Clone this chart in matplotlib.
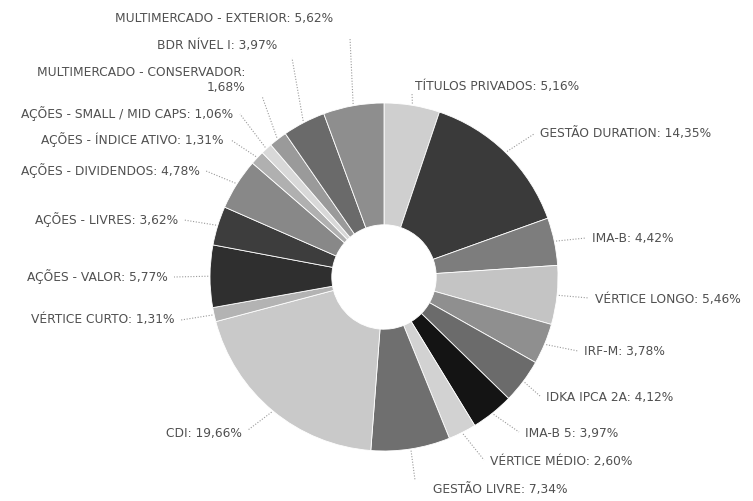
import numpy as np
import matplotlib
matplotlib.use("Agg")
import matplotlib.pyplot as plt

plt.rcParams['font.family'] = ['DejaVu Sans']

# dados (sentido horário a partir do topo)
categorias = [
    'TÍTULOS PRIVADOS', 'GESTÃO DURATION', 'IMA-B', 'VÉRTICE LONGO', 'IRF-M',
    'IDKA IPCA 2A', 'IMA-B 5', 'VÉRTICE MÉDIO', 'GESTÃO LIVRE', 'CDI',
    'VÉRTICE CURTO', 'AÇÕES - VALOR', 'AÇÕES - LIVRES', 'AÇÕES - DIVIDENDOS',
    'AÇÕES - ÍNDICE ATIVO', 'AÇÕES - SMALL / MID CAPS',
    'MULTIMERCADO - CONSERVADOR', 'BDR NÍVEL I', 'MULTIMERCADO - EXTERIOR',
]
percentuais = [5.16, 14.35, 4.42, 5.46, 3.78, 4.12, 3.97, 2.60, 7.34, 19.66,
               1.31, 5.77, 3.62, 4.78, 1.31, 1.06, 1.68, 3.97, 5.62]

cores = ['#cfcfcf', '#3a3a3a', '#7d7d7d', '#c4c4c4', '#8f8f8f', '#6b6b6b',
         '#141414', '#d2d2d2', '#6f6f6f', '#c9c9c9', '#b3b3b3', '#2f2f2f',
         '#3d3d3d', '#888888', '#b0b0b0', '#d8d8d8', '#9a9a9a', '#6a6a6a',
         '#8e8e8e']

# layout dos rótulos em pixels (x, y a partir do topo, alinhamento, fim da linha guia)
rotulos = [
    (415, 86, 'left', (412, 93)),
    (540, 133, 'left', (534, 134)),
    (592, 238, 'left', (586, 238)),
    (595, 299, 'left', (589, 298)),
    (584, 352, 'left', (578, 351)),
    (546, 397, 'left', (540, 396)),
    (525, 433, 'left', (519, 432)),
    (490, 462, 'left', (484, 460)),
    (433, 490, 'left', (415, 480)),
    (242, 433, 'right', (248, 430)),
    (175, 320, 'right', (181, 320)),
    (168, 277, 'right', (174, 277)),
    (178, 220, 'right', (184, 220)),
    (200, 171, 'right', (206, 171)),
    (224, 140, 'right', (231, 140)),
    (233, 114, 'right', (240, 114)),
    (245, 80, 'right', (262, 96)),
    (277, 45, 'right', (292, 58)),
    (333, 18, 'right', (350, 38)),
]

W, H = 753, 501
cx, cy, raio = 384, 277, 174

fig = plt.figure(figsize=(W / 100, H / 100), dpi=100)
ax = fig.add_axes([0, 0, 1, 1])

ax.pie(percentuais, colors=cores, startangle=90, counterclock=False,
       radius=raio, center=(cx, H - cy),
       wedgeprops=dict(width=raio * 0.70, edgecolor='white', linewidth=0.6))

total = sum(percentuais)
acum = np.cumsum(percentuais)
meio = (acum - np.array(percentuais) / 2) / total * 360  # graus, horário a partir do topo

for nome, p, ang, (x, y, ha, fim) in zip(categorias, percentuais, meio, rotulos):
    t = np.radians(ang)
    px = cx + raio * 1.01 * np.sin(t)
    py = H - (cy - raio * 1.01 * np.cos(t))
    ax.plot([px, fim[0]], [py, H - fim[1]], linestyle=(0, (1, 1.5)),
            color='#9a9a9a', linewidth=0.8)
    valor = f'{p:.2f}'.replace('.', ',') + '%'
    if nome == 'MULTIMERCADO - CONSERVADOR':
        texto = f'{nome}:\n{valor}'
    else:
        texto = f'{nome}: {valor}'
    ax.text(x, H - y, texto, ha=ha, va='center', fontsize=8.8,
            color='#505050', multialignment='right', linespacing=1.25)

ax.set_xlim(0, W)
ax.set_ylim(0, H)
ax.set_aspect('equal')
ax.axis('off')

fig.savefig('out.png', dpi=100)
